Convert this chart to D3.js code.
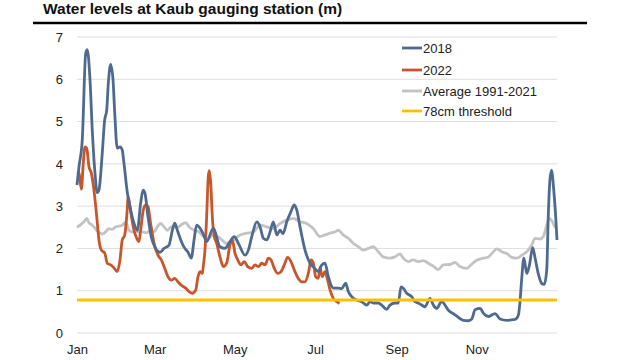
<!DOCTYPE html>
<html><head><meta charset="utf-8">
<script src="https://cdn.jsdelivr.net/npm/d3@7"></script>
<style>body{margin:0;background:#fff}svg{display:block}</style>
</head><body><svg id="c" width="640" height="360"></svg>
<script>
const title = "Water levels at Kaub gauging station (m)";
const monthLabels = ["Jan","Mar","May","Jul","Sep","Nov"];
const monthDays = [0,59,120,181,243,304];
const yTicks = [0,1,2,3,4,5,6,7];
const threshold = 0.78;
const seriesNames = ["2018","2022","Average 1991-2021","78cm threshold"];

const days2018 = [0,1.5,4,6.6,7.8,9.9,11.6,13.5,15.4,16.7,19.2,21,22.6,23.8,25.6,27.4,28.7,30.6,32.7,34.4,35.7,38.3,40.8,43.3,45.9,48.4,50.2,51.7,54,56.5,59.3,63.1,66.2,70,72.5,74.3,76.3,78.9,81.4,84.4,86.9,89,91,93.5,96,98.6,103.7,108.7,112.5,116.3,119.6,122.7,127.8,130.3,132.9,136.7,139.2,141.7,144.3,146.8,149.3,151.9,154.4,156.7,159.5,162.7,165.2,167.1,169.6,173.4,177.2,180.5,183.5,186.1,188.6,191.1,195,198.7,201.3,204.3,206.3,208.9,212.7,216.5,220.3,222.8,225.3,229.1,231.7,235.5,238,241.8,244.3,246.4,248.1,250.7,254.5,257,259.5,262.1,264.6,268.4,271,273.5,277.3,282.4,287.5,293.8,297.6,300.2,302.7,306.5,309,312.8,317.9,321.7,326.8,333.1,335.6,336.9,338.2,339.8,342,344,346.5,348.3,350.8,353.4,355.3,357.2,358.4,359.7,361,362.2,364,365];
const level2018 = [3.5,3.93,4.56,6.61,6.7,5.98,4.8,3.85,3.32,3.38,4.25,5.03,5.27,5.9,6.35,5.98,5.2,4.37,4.4,4.33,4.02,3.31,2.91,2.6,2.43,3.07,3.38,3.3,2.75,2.27,2.03,1.91,2.0,2.08,2.43,2.6,2.43,2.2,2.03,1.91,1.77,2.2,2.55,2.48,2.34,2.16,2.48,2.04,2.0,2.16,2.28,2.12,1.84,1.96,2.28,2.63,2.51,2.24,2.2,2.39,2.63,2.32,2.43,2.35,2.63,2.87,3.03,2.91,2.51,1.96,1.65,1.54,1.45,1.61,1.65,1.33,1.06,1.06,1.05,1.18,0.98,0.86,0.78,0.74,0.66,0.74,0.71,0.71,0.66,0.56,0.66,0.71,0.71,1.09,1.06,0.94,0.86,0.74,0.71,0.66,0.62,0.82,0.66,0.58,0.74,0.54,0.43,0.3,0.29,0.33,0.55,0.58,0.47,0.39,0.46,0.33,0.3,0.32,0.42,0.75,1.3,1.77,1.41,1.6,2.02,1.78,1.4,1.17,1.15,1.5,2.8,3.65,3.85,3.5,2.75,2.2];

const days2022 = [0,1.5,3.3,4.8,6.1,7.4,9.1,10.9,12.9,15,16.7,18.5,21.1,23,25.6,28.1,30.6,32.7,34.4,36.3,37.8,39,40.8,43.3,45.4,47.1,48.4,50.4,52.2,54,56,58.6,61.6,64.1,66.7,69.2,71.7,74.3,76.8,79.3,82.7,85.2,87.7,90.3,92,93.5,95.3,96,97.3,98.6,99.8,100.6,101.7,102.9,104.4,106.2,108.7,111.3,113.8,116.3,118.1,120.2,122.2,124.7,127.2,129.8,132.9,135.4,137.9,140.5,143,145.5,147.5,150,152.6,155.1,157.6,160.2,162.7,165.2,168.3,170.9,173.4,175.9,178,179.7,181.5,183.5,184.8,186.5,188.6,190.6,192.4,194.9,197.5,199.6];
const level2022 = [3.81,3.78,3.4,4.02,4.4,4.37,3.93,3.78,3.38,2.75,2.2,1.96,1.89,1.65,1.61,1.54,1.45,1.73,2.2,2.32,2.75,3.22,2.87,2.43,2.24,2.16,2.43,2.91,3.03,2.99,2.59,2.12,1.84,1.73,1.53,1.33,1.25,1.29,1.21,1.13,1.06,0.98,0.94,1.02,1.33,1.45,1.41,1.57,1.96,2.75,3.69,3.84,3.54,2.75,2.28,2.12,1.8,1.57,1.65,2.08,2.2,1.88,1.73,1.61,1.69,1.57,1.53,1.61,1.57,1.65,1.61,1.77,1.73,1.53,1.41,1.45,1.61,1.79,1.69,1.49,1.29,1.21,1.21,1.41,1.73,1.65,1.33,1.29,1.55,1.33,1.45,1.25,1.02,0.82,0.74,0.7];

const daysAvg = [0,5.3,7.4,9.1,11.6,15,19.2,21.8,24.3,26.8,29.4,34.4,37,39.5,42,45.9,49.7,53,56,58.6,61,63.6,66.2,68.7,71.7,76.3,78.9,82.7,85.2,89,92.8,96,99.8,103.7,108.7,113.8,118.9,124,129,134.1,139.2,144.3,149.3,154.4,159.5,164.5,169.6,174.6,179.7,184.8,188.6,192.4,196.2,198.7,202.5,206.3,210.1,213.9,217.7,221.5,225.3,229.1,232.9,238,241.8,245.6,248.1,251.9,255.7,259.5,263.3,267.1,270.9,274.7,278.5,283.7,287.5,291.3,296.3,300.2,304,309,312.8,316.6,319.2,323,326.8,330.6,334.4,338.2,342,345.8,348.3,352.1,354.6,357.2,359.2,361.5,363.5,365];
const levelAvg = [2.5,2.63,2.71,2.61,2.55,2.43,2.34,2.39,2.47,2.45,2.51,2.55,2.62,2.43,2.39,2.39,2.39,2.37,2.43,2.39,2.51,2.59,2.51,2.43,2.51,2.5,2.55,2.61,2.51,2.43,2.39,2.29,2.24,2.32,2.24,2.12,2.2,2.32,2.36,2.39,2.55,2.51,2.47,2.59,2.67,2.71,2.63,2.59,2.47,2.28,2.32,2.36,2.39,2.43,2.32,2.24,2.12,2.04,1.96,2.0,2.04,1.92,1.8,1.77,1.8,1.87,1.77,1.69,1.73,1.69,1.71,1.65,1.58,1.5,1.61,1.62,1.67,1.57,1.53,1.63,1.72,1.77,1.8,1.92,1.99,1.92,1.88,1.79,1.77,1.84,1.92,2.08,2.24,2.22,2.28,2.55,2.71,2.63,2.51,2.5];

const colors = ["#4f6a8f","#c9562b","#c3c3c3","#ffc000"];
const font = "'Liberation Sans', Arial, sans-serif";

const svg = d3.select("#c");
const x = d3.scaleLinear().domain([0,365]).range([77,557]);
const y = d3.scaleLinear().domain([0,7]).range([333,37]);

svg.append("text").attr("x",43).attr("y",14).attr("font-family",font).attr("font-weight","bold")
  .attr("font-size",15.5).attr("fill","#111").text(title);
svg.append("line").attr("x1",33).attr("x2",587).attr("y1",23).attr("y2",23).attr("stroke","#000").attr("stroke-width",2.5);

// gridlines
svg.append("g").selectAll("line").data(yTicks).join("line")
  .attr("x1",x(0)).attr("x2",x(365)).attr("y1",d=>y(d)).attr("y2",d=>y(d))
  .attr("stroke","#dedede").attr("stroke-width",1);

const yAxis = svg.append("g").attr("transform",`translate(${x(0)},0)`)
  .call(d3.axisLeft(y).tickValues(yTicks).tickSize(0).tickPadding(14).tickFormat(d3.format("d")));
yAxis.select(".domain").remove();
yAxis.selectAll("text").attr("font-family",font).attr("font-size",13).attr("fill","#222");

const xAxis = svg.append("g").attr("transform",`translate(0,${y(0)})`)
  .call(d3.axisBottom(x).tickValues(monthDays).tickSize(0).tickPadding(12).tickFormat((d,i)=>monthLabels[i]));
xAxis.select(".domain").remove();
xAxis.selectAll("text").attr("font-family",font).attr("font-size",13).attr("fill","#222");

const line = d3.line().x(d=>x(d[0])).y(d=>y(d[1])).curve(d3.curveMonotoneX);
const zip = (a,b)=>a.map((v,i)=>[v,b[i]]);

svg.append("path").datum(zip(daysAvg,levelAvg)).attr("d",line).attr("fill","none")
  .attr("stroke",colors[2]).attr("stroke-width",2.8).attr("stroke-linejoin","round");
svg.append("path").datum(zip(days2022,level2022)).attr("d",line).attr("fill","none")
  .attr("stroke",colors[1]).attr("stroke-width",2.8).attr("stroke-linejoin","round");
svg.append("path").datum(zip(days2018,level2018)).attr("d",line).attr("fill","none")
  .attr("stroke",colors[0]).attr("stroke-width",2.8).attr("stroke-linejoin","round");
svg.append("line").attr("x1",x(0)).attr("x2",x(365)).attr("y1",y(threshold)).attr("y2",y(threshold))
  .attr("stroke",colors[3]).attr("stroke-width",2.8);

// legend
const legY = [48,70,91,111];
const leg = svg.append("g").selectAll("g").data(seriesNames).join("g")
  .attr("transform",(d,i)=>`translate(402,${legY[i]})`);
leg.append("line").attr("x1",0).attr("x2",20).attr("stroke",(d,i)=>colors[i]).attr("stroke-width",2.8);
leg.append("text").attr("x",21).attr("dy","0.35em").attr("font-family",font).attr("font-size",13)
  .attr("fill","#222").text(d=>d);
</script></body></html>
